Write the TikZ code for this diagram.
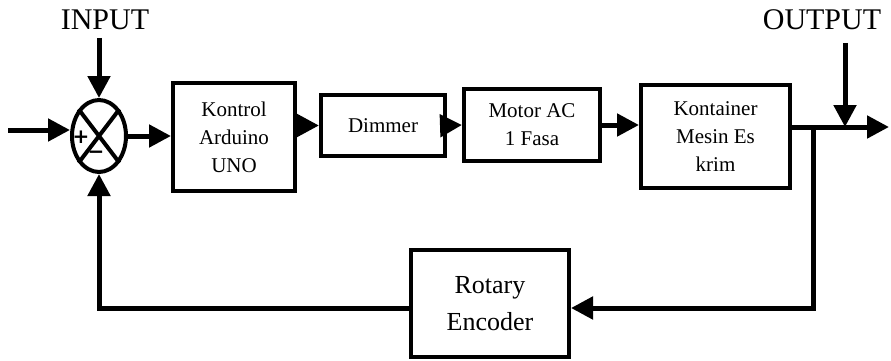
\documentclass[tikz,border=0pt]{standalone}
\usepackage{fontspec}
\setmainfont{Liberation Serif}
\newfontfamily\tandafont{DejaVu Sans}
\usetikzlibrary{arrows.meta,shapes.geometric}
\begin{document}
\begin{tikzpicture}[x=1pt, y=-1pt, >={Triangle[length=22pt,width=22pt]},
    blok/.style={draw, line width=4pt, align=center, inner sep=0pt, font=\fontsize{21}{28}\selectfont},
    garis/.style={line width=5pt},
    tanda/.style={font=\tandafont\bfseries\fontsize{20}{20}\selectfont, inner sep=0pt},
    judul/.style={font=\fontsize{30}{30}\selectfont}]
    \useasboundingbox (0,0) rectangle (891,361);
    % titik penjumlah
    \node[ellipse, draw, line width=4pt, minimum width=54pt, minimum height=72pt, inner sep=0pt] (sum) at (99,136) {};
    \draw[line width=4pt] (sum.north west)--(sum.south east) (sum.north east)--(sum.south west);
    \node[tanda] (plus) at (81,137) {+};
    \node[tanda] (minus) at (96,155) {−};
    % blok
    \node[blok, minimum width=122pt, minimum height=108pt] (arduino) at (234,137) {Kontrol\\Arduino\\UNO};
    \node[blok, minimum width=124pt, minimum height=61pt] (dimmer) at (383,125.5) {Dimmer};
    \node[blok, minimum width=136pt, minimum height=72pt] (motor) at (532,125) {Motor AC\\1 Fasa};
    \node[blok, minimum width=149pt, minimum height=103pt] (kontainer) at (715.5,136.5) {Kontainer\\Mesin Es\\krim};
    \node[blok, font=\fontsize{26}{37}\selectfont, minimum width=158pt, minimum height=107pt] (encoder) at (490,303.5) {Rotary\\Encoder};
    % label
    \node[judul] (input) at (105,20) {INPUT};
    \node[judul] (output) at (822,20) {OUTPUT};
    % titik bantu
    \coordinate (in) at (8,130);
    \coordinate (inp) at (99,38);
    \coordinate (out) at (889,127);
    \coordinate (cab) at (813,127);
    \coordinate (outp) at (845,43);
    \coordinate (bawah) at (0,308);
    % panah
    \draw[garis,->] (in) -- (sum.west |- in);
    \draw[garis,->] (inp) -- (sum.north);
    \draw[garis,->] (sum.east) -- (arduino.west |- sum.east);
    \draw[garis,->] (arduino.east |- dimmer.west) -- (dimmer.west);
    \draw[garis,->] (dimmer.east) -- (motor.west);
    \draw[garis,->] (motor.east) -- (motor.east -| kontainer.west);
    \draw[garis,->] (kontainer.east |- out) -- (out);
    \draw[garis,->] (outp) -- (outp |- out);
    \draw[garis,->] (cab) |- (encoder.east |- bawah);
    \draw[garis,->] (encoder.west |- bawah) -| (sum.south);
\end{tikzpicture}
\end{document}
